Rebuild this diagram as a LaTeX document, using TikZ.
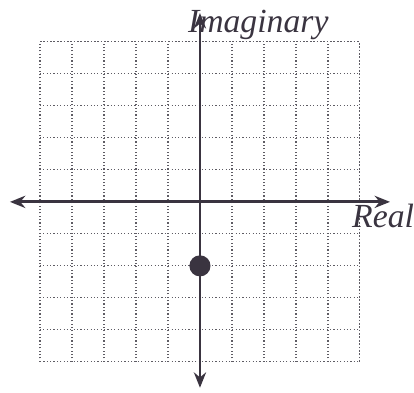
\documentclass[tikz,border=0pt]{standalone}
\usepackage{fontspec}
\setmainfont{Liberation Serif}
\usetikzlibrary{arrows.meta}
\definecolor{AxisInk}{HTML}{3A3440}
\definecolor{GridInk}{HTML}{5E5C64}
\tikzset{
  gridline/.style={draw=GridInk,line width=1pt,dotted},
  axis/.style={{Stealth[length=4.8mm,width=3.8mm]}-{Stealth[length=4.8mm,width=3.8mm]},line width=2.6pt,draw=AxisInk},
  axislabel/.style={font=\fontsize{30}{32}\selectfont\itshape,text=AxisInk,inner sep=0pt},
  point/.style={circle,fill=AxisInk,inner sep=0pt,minimum size=6.6mm}
}
\begin{document}
\begin{tikzpicture}[x=1cm,y=1cm]
  \useasboundingbox (-6.25,-5.97) rectangle (6.69,6.31);
  % dotted grid
  \draw[gridline] (-5,-5) grid (5,5);
  \draw[gridline] (-5,-5) rectangle (5,5);
  % axis ends
  \coordinate (west) at (-5.94,0);
  \coordinate (east) at (5.94,0);
  \coordinate (north) at (0,5.9);
  \coordinate (south) at (0,-5.81);
  \draw[axis] (west) -- (east);
  \draw[axis] (south) -- (north);
  \node[axislabel,anchor=base west] (imag) at (-0.38,5.28) {Imaginary};
  \node[axislabel,anchor=base west] (real) at (4.75,-0.81) {Real};
  \node[point] (z) at (0,-2) {};
\end{tikzpicture}
\end{document}
